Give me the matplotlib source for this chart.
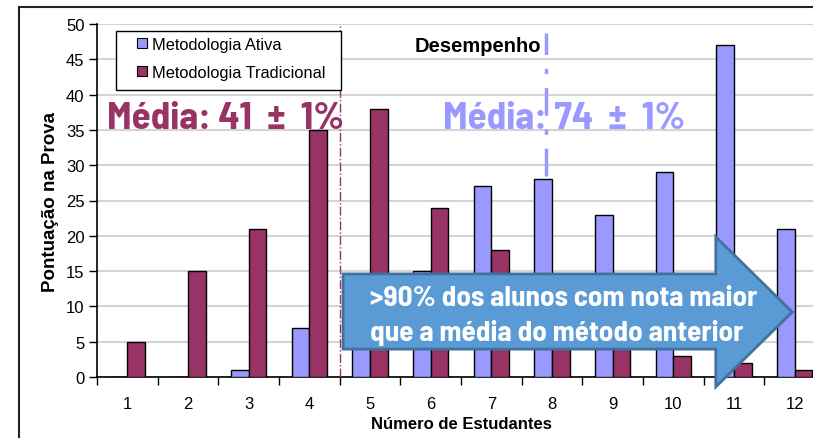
import matplotlib
matplotlib.use('Agg')
import matplotlib.pyplot as plt
import numpy as np
from matplotlib import font_manager
from matplotlib.lines import Line2D
from matplotlib.patches import Polygon, Rectangle

plt.rcParams['font.family'] = ['Liberation Sans', 'DejaVu Sans']

estudantes = ['1', '2', '3', '4', '5', '6', '7', '8', '9', '10', '11', '12']
ativa = [0, 0, 1, 7, 10, 15, 27, 28, 23, 29, 47, 21]
tradicional = [5, 15, 21, 35, 38, 24, 18, 10, 8, 3, 2, 1]

cor_ativa = '#9999FF'
cor_trad = '#993366'

# fonte estreita para os destaques (se existir)
instaladas = {f.name for f in font_manager.fontManager.ttflist}
if 'Barlow Semi Condensed' in instaladas:
    cond = ['Barlow Semi Condensed', 'DejaVu Sans']
    esc = 1.0
else:
    cond = ['Liberation Sans', 'DejaVu Sans']
    esc = 0.8

fig = plt.figure(figsize=(8.13, 4.39), dpi=100)
ax = fig.add_axes([97 / 813, 61 / 439, 728 / 813, 353 / 439])

x = np.arange(1, len(estudantes) + 1)
w = 0.29
ax.bar(x - w / 2, ativa, w, color=cor_ativa, edgecolor='black', lw=1, zorder=3)
ax.bar(x + w / 2, tradicional, w, color=cor_trad, edgecolor='black', lw=1, zorder=3)

ax.set_xlim(0.5, 12.5)
ax.set_ylim(0, 50)
ax.set_yticks(range(0, 51, 5))
ax.set_xticks(x)
ax.set_xticklabels(estudantes)
ax.set_xticks(np.arange(0.5, 13, 1), minor=True)
ax.tick_params(axis='x', which='major', length=0, pad=14, labelsize=12)
ax.tick_params(axis='x', which='minor', length=6, direction='out', width=1)
ax.tick_params(axis='y', length=6, direction='out', width=1, labelsize=12, pad=3)
ax.grid(axis='y', color='#D4D4D4', lw=1.5, zorder=0)
for s in ['top', 'right']:
    ax.spines[s].set_visible(False)
ax.spines['left'].set_linewidth(1.2)
ax.spines['bottom'].set_linewidth(1.2)

ax.set_xlabel('Número de Estudantes', fontsize=12, fontweight='bold', labelpad=3)
ax.set_ylabel('Pontuação na Prova', fontsize=13.5, fontweight='bold', labelpad=5)

# linhas de referência
ax.plot([4.5, 4.5], [0, 50], color=cor_trad, ls='-.', lw=1, zorder=4)
ax.plot([7.9, 7.9], [28.5, 48.7], color=cor_ativa, lw=2.5, zorder=4,
        dashes=(8, 4, 1.5, 4))

# legenda (moldura desenhada à parte)
ax.add_patch(Rectangle((0.0261, 0.813), 0.309, 0.167, transform=ax.transAxes,
                       facecolor='white', edgecolor='black', lw=1, zorder=5))
handles = [Line2D([], [], ls='', marker='s', markersize=7, markerfacecolor=c,
                  markeredgecolor='black', markeredgewidth=0.8)
           for c in (cor_ativa, cor_trad)]
leg = ax.legend(handles, ['Metodologia Ativa', 'Metodologia Tradicional'],
                loc='upper left', bbox_to_anchor=(0.0505, 0.963), fontsize=11.8,
                frameon=False, handlelength=1.0, borderpad=0, labelspacing=0.8,
                handletextpad=0.12, borderaxespad=0)
leg.set_zorder(6)

ax.text(0.436, 0.94, 'Desempenho', transform=ax.transAxes, fontsize=14.5,
        fontweight='bold', ha='left', va='center', zorder=6)

ax.text(0.0135, 0.735, 'Média: 41  ±  1%', transform=ax.transAxes,
        fontsize=28 * esc, fontweight='bold', color=cor_trad, family=cond,
        ha='left', va='center', zorder=6)
ax.text(0.475, 0.735, 'Média: 74  ±  1%', transform=ax.transAxes,
        fontsize=28 * esc, fontweight='bold', color=cor_ativa, family=cond,
        ha='left', va='center', zorder=6)

# seta azul
seta = [(0.338, 0.292), (0.850, 0.292), (0.850, 0.397), (0.955, 0.184),
        (0.850, -0.028), (0.850, 0.079), (0.338, 0.079)]
ax.add_patch(Polygon(seta, closed=True, transform=ax.transAxes,
                     facecolor='#5B9BD5', edgecolor='#41719C', lw=2,
                     clip_on=False, zorder=7))
ax.text(0.375, 0.226, '>90% dos alunos com nota maior', transform=ax.transAxes,
        fontsize=21 * esc, fontweight='bold', color='white', family=cond,
        ha='left', va='center', zorder=8)
ax.text(0.375, 0.127, 'que a média do método anterior', transform=ax.transAxes,
        fontsize=21 * esc, fontweight='bold', color='white', family=cond,
        ha='left', va='center', zorder=8)

fig.patches.append(Rectangle((19 / 813, -0.1), 1.2, 1.1 - 8 / 439,
                             transform=fig.transFigure, fill=False,
                             edgecolor='#222222', lw=1.5))

fig.savefig('out.png', dpi=100)
